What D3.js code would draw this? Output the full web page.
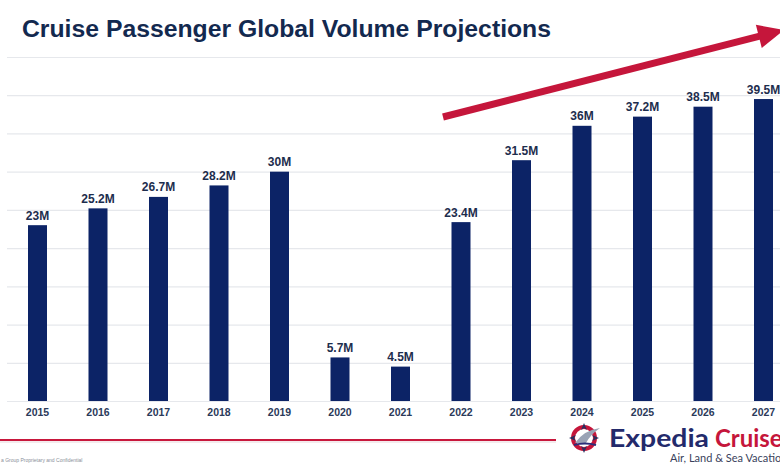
<!DOCTYPE html>
<html>
<head>
<meta charset="utf-8">
<script src="https://cdn.jsdelivr.net/npm/d3@7"></script>
<style>
  html, body { margin: 0; padding: 0; background: #ffffff; }
  svg { display: block; }
</style>
</head>
<body>
<div id="chart"></div>
<script>
const years = ["2015","2016","2017","2018","2019","2020","2021","2022","2023","2024","2025","2026","2027"];
const passengers = [23, 25.2, 26.7, 28.2, 30, 5.7, 4.5, 23.4, 31.5, 36, 37.2, 38.5, 39.5];
const valueLabels = ["23M","25.2M","26.7M","28.2M","30M","5.7M","4.5M","23.4M","31.5M","36M","37.2M","38.5M","39.5M"];
const gridTicks = [0, 5, 10, 15, 20, 25, 30, 35, 40, 45];
const titleText = "Cruise Passenger Global Volume Projections";

const W = 780, H = 470;
const svg = d3.select("#chart").append("svg").attr("width", W).attr("height", H);

const x = d3.scaleBand().domain(years).range([7.25, 793.75]).paddingInner(0.686).paddingOuter(0.343);
const y = d3.scaleLinear().domain([0, 45]).range([401, 57]);

// title
svg.append("text").attr("x", 22).attr("y", 36.5)
  .attr("font-family", "Liberation Sans, Arial, sans-serif")
  .attr("font-weight", "bold").attr("font-size", 23)
  .attr("textLength", 529).attr("lengthAdjust", "spacingAndGlyphs")
  .attr("fill", "#13294f").text(titleText);

// gridlines
const grid = d3.axisLeft(y).tickValues(gridTicks).tickSize(-(W - 7)).tickFormat("");
svg.append("g").attr("transform", "translate(7,0)").call(grid)
  .call(g => g.select(".domain").remove())
  .call(g => g.selectAll("line").attr("stroke", "#e6e8ec").attr("stroke-width", 1.2));

// bars
svg.append("g").selectAll("rect").data(years).join("rect")
  .attr("x", d => x(d)).attr("width", x.bandwidth())
  .attr("y", (d, i) => y(passengers[i]))
  .attr("height", (d, i) => y(0) - y(passengers[i]))
  .attr("fill", "#0c2366");

// value labels
svg.append("g").selectAll("text").data(years).join("text")
  .attr("x", d => x(d) + x.bandwidth() / 2)
  .attr("y", (d, i) => y(passengers[i]) - 5.5)
  .attr("text-anchor", "middle")
  .attr("font-family", "Liberation Sans, Arial, sans-serif")
  .attr("font-weight", "bold").attr("font-size", 12)
  .attr("fill", "#1d2d4d")
  .text((d, i) => valueLabels[i]);

// x axis labels
const xAxis = d3.axisBottom(x).tickSize(0).tickPadding(8);
svg.append("g").attr("transform", "translate(0,401)").call(xAxis)
  .call(g => g.select(".domain").remove())
  .call(g => g.selectAll("text")
    .attr("font-family", "Liberation Sans, Arial, sans-serif")
    .attr("font-weight", "bold").attr("font-size", 10.5)
    .attr("fill", "#2b3a5a"));

// red trend arrow
const ax1 = 443, ay1 = 117, ax2 = 784, ay2 = 30;
const ang = Math.atan2(ay2 - ay1, ax2 - ax1);
const headL = 26, headW = 12;
const bx = ax2 - headL * Math.cos(ang), by = ay2 - headL * Math.sin(ang);
svg.append("line").attr("x1", ax1).attr("y1", ay1).attr("x2", bx + 2 * Math.cos(ang)).attr("y2", by + 2 * Math.sin(ang))
  .attr("stroke", "#c5163b").attr("stroke-width", 7);
svg.append("path")
  .attr("d", `M${ax2},${ay2} L${bx - headW * Math.sin(ang)},${by + headW * Math.cos(ang)} L${bx + headW * Math.sin(ang)},${by - headW * Math.cos(ang)} Z`)
  .attr("fill", "#c5163b");

// bottom footer line
svg.append("line").attr("x1", 0).attr("x2", 556).attr("y1", 440).attr("y2", 440)
  .attr("stroke", "#c8173c").attr("stroke-width", 2);
svg.append("line").attr("x1", 0).attr("x2", 556).attr("y1", 442).attr("y2", 442)
  .attr("stroke", "#e9d6da").attr("stroke-width", 1);

svg.append("text").attr("x", 1).attr("y", 462)
  .attr("font-family", "Liberation Sans, Arial, sans-serif")
  .attr("font-size", 5).attr("fill", "#8a8f99")
  .text("a Group Proprietary and Confidential");

// logo
const logo = svg.append("g");
logo.append("circle").attr("cx", 584).attr("cy", 438).attr("r", 11)
  .attr("fill", "none").attr("stroke", "#c5163b").attr("stroke-width", 4);
logo.append("path").attr("d", "M584,423 L587,430 L584,428 L581,430 Z M599,438 L592,441 L594,438 L592,435 Z M584,453 L581,446 L584,448 L587,446 Z M569,438 L576,435 L574,438 L576,441 Z")
  .attr("fill", "#2b2f5e");
logo.append("path").attr("d", "M575,443 Q584,430 600,428 Q590,435 586,443 Z").attr("fill", "#9aa3b5");
logo.append("path").attr("d", "M574,445 Q585,442 596,445").attr("fill", "none").attr("stroke", "#2b2f7a").attr("stroke-width", 2);

logo.append("text").attr("x", 609).attr("y", 447)
  .attr("font-family", "Lato, 'Open Sans', sans-serif")
  .attr("font-size", 25).attr("font-weight", "bold")
  .attr("textLength", 100).attr("lengthAdjust", "spacingAndGlyphs")
  .attr("fill", "#232a6b").text("Expedia");
logo.append("text").attr("x", 715).attr("y", 447)
  .attr("font-family", "Lato, 'Open Sans', sans-serif")
  .attr("font-size", 25).attr("font-weight", "bold")
  .attr("textLength", 78).attr("lengthAdjust", "spacingAndGlyphs")
  .attr("fill", "#c5163b").text("Cruises");
logo.append("text").attr("x", 670).attr("y", 462)
  .attr("font-family", "Lato, 'Open Sans', sans-serif")
  .attr("font-size", 11).attr("fill", "#3a3f5c")
  .text("Air, Land & Sea Vacations");
</script>
</body>
</html>
